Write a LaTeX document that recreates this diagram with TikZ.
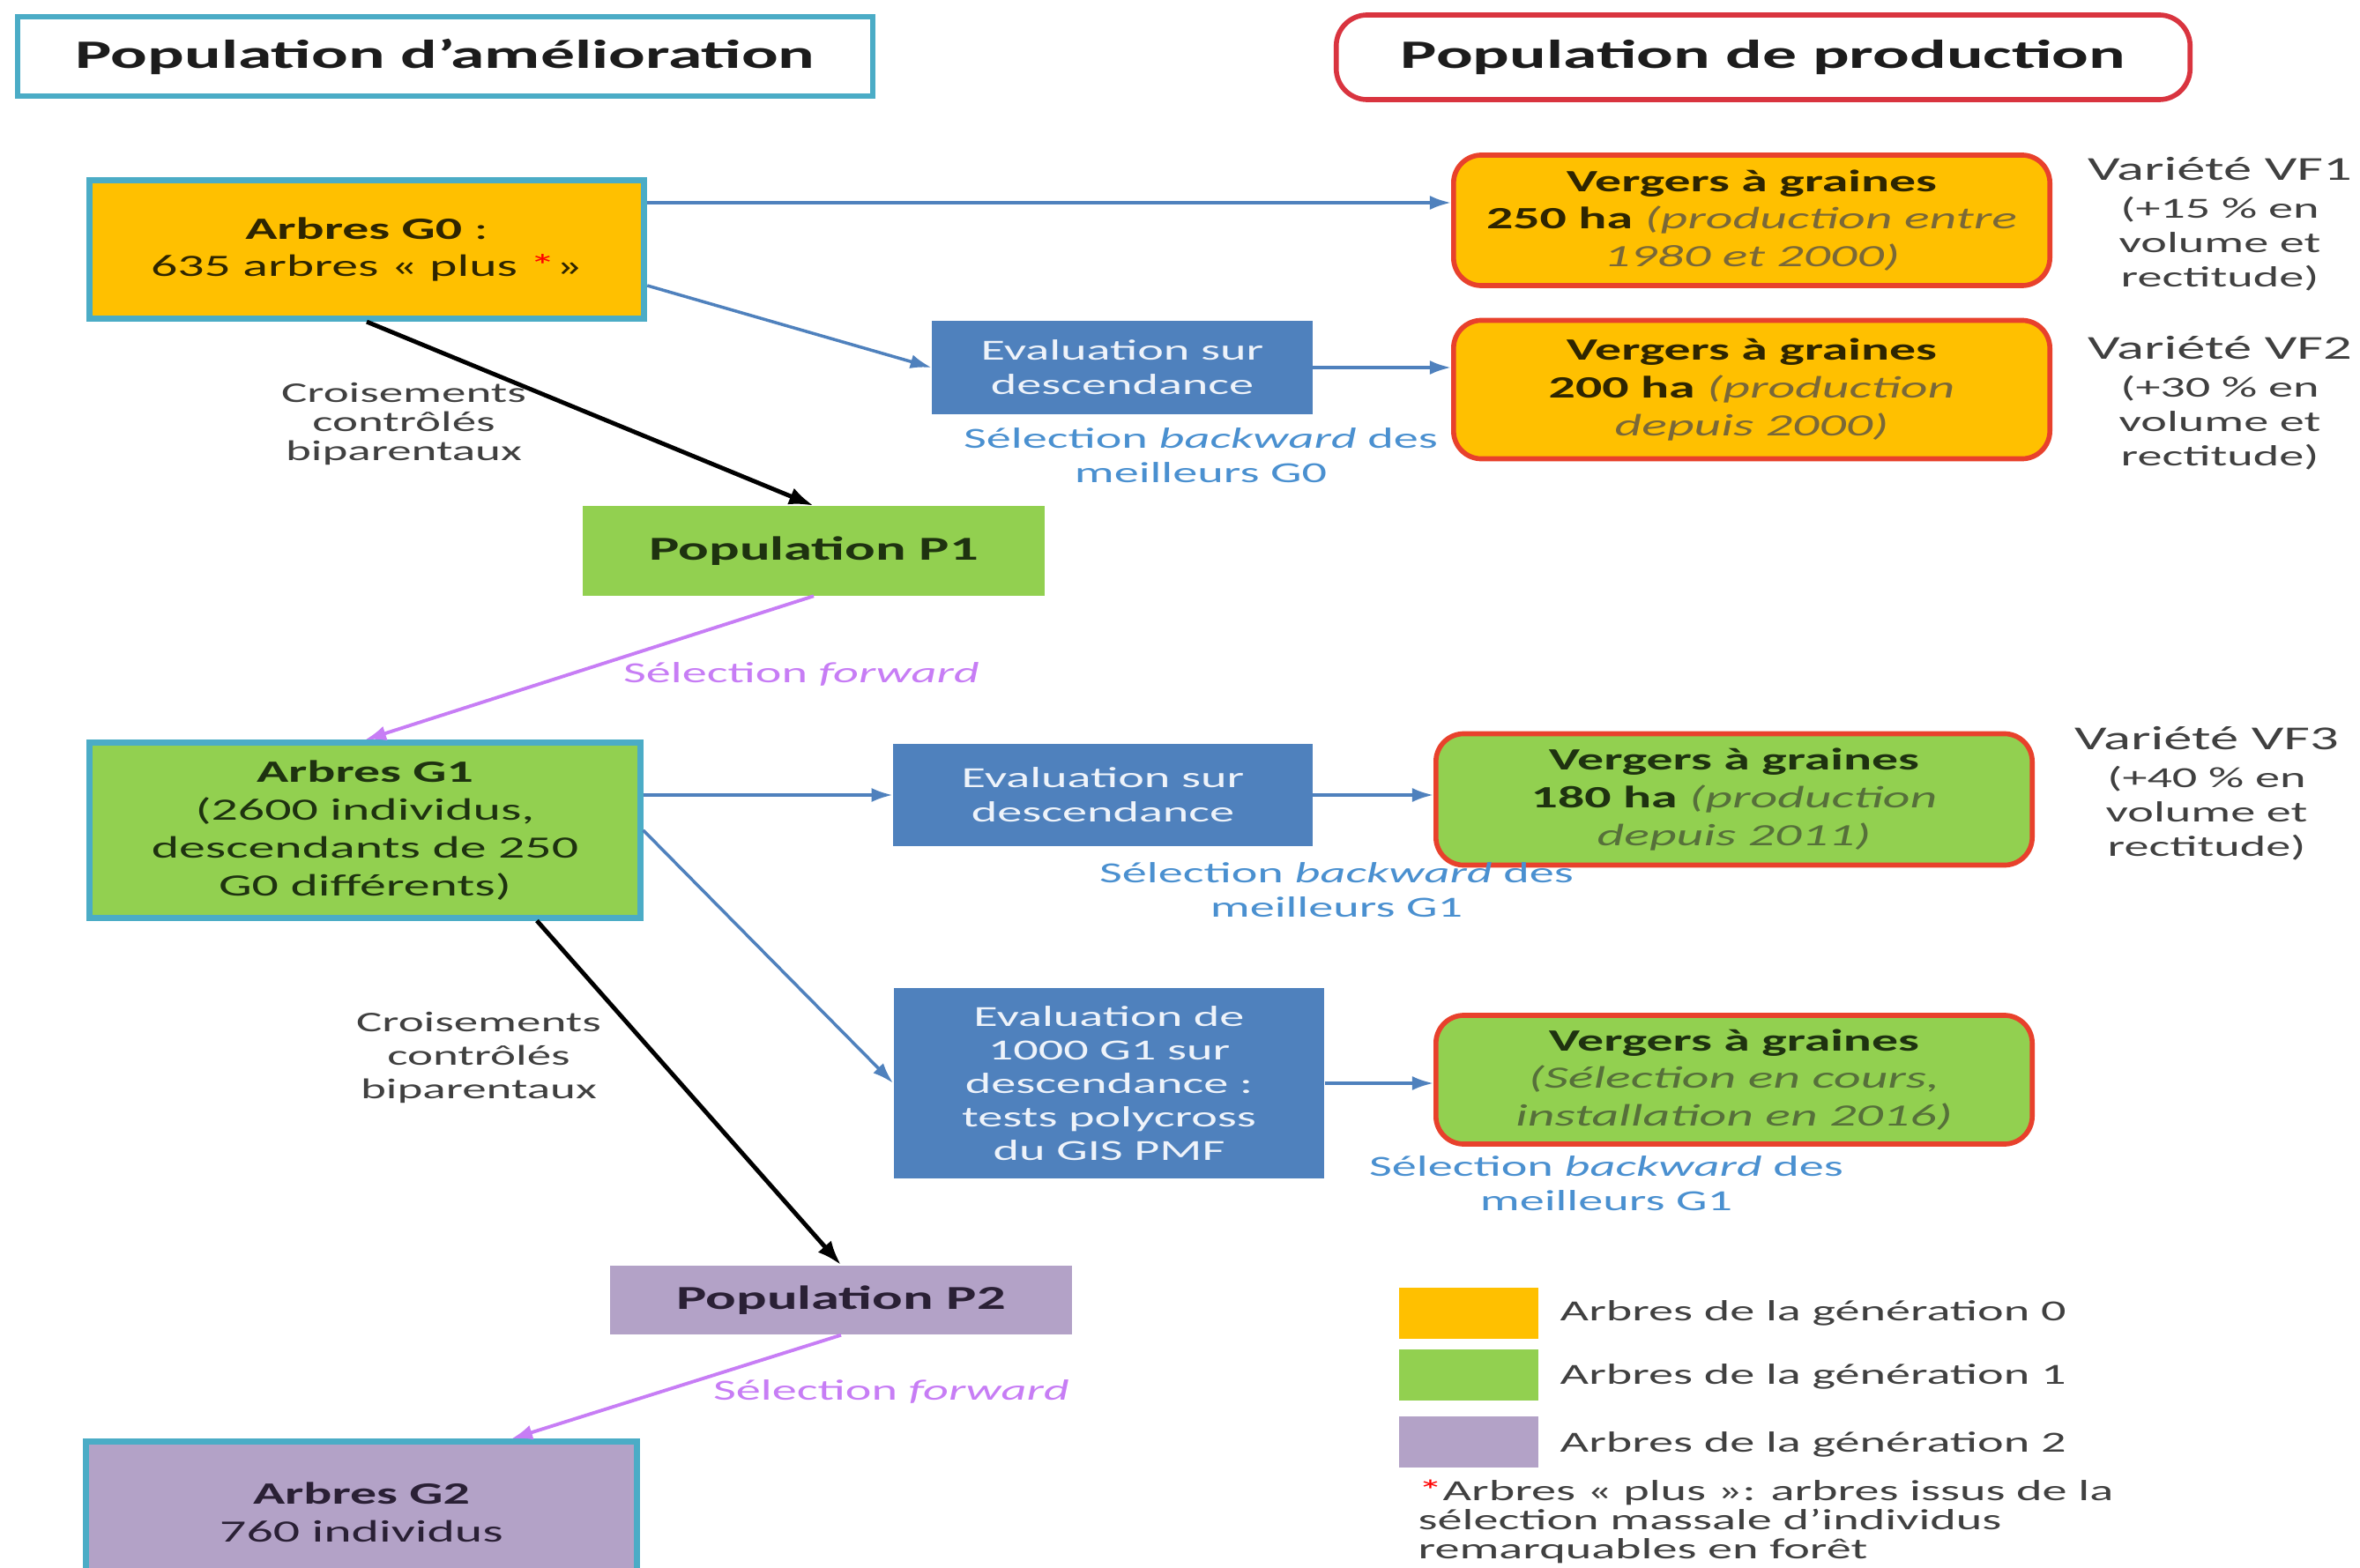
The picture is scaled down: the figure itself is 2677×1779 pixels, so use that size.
\documentclass[tikz,border=0pt]{standalone}
\usepackage{fontspec}
\setmainfont{Carlito}[FakeStretch=1.7]
\usetikzlibrary{arrows.meta,calc}

\definecolor{cOrange}{HTML}{FFC000}
\definecolor{cGreen}{HTML}{92D050}
\definecolor{cPurple}{HTML}{B3A2C7}
\definecolor{cBlue}{HTML}{4F81BD}
\definecolor{cTeal}{HTML}{4BACC6}
\definecolor{cRed}{HTML}{E8412C}
\definecolor{cHRed}{HTML}{D9343F}
\definecolor{cLabel}{HTML}{4A90D0}
\definecolor{cViolet}{HTML}{C77DF5}
\definecolor{cText}{HTML}{404040}
\definecolor{cDark}{HTML}{1C1C1C}
\definecolor{cGtext}{HTML}{1E3210}
\definecolor{cOtext}{HTML}{2E2500}
\definecolor{cPtext}{HTML}{2A2035}
\definecolor{cItalO}{HTML}{7A6838}
\definecolor{cItalG}{HTML}{56703A}
\definecolor{cEtext}{HTML}{EEF3FA}

\newcommand\myfA{\fontsize{10pt}{12.2pt}\selectfont}
\newcommand\myfB{\fontsize{9.4pt}{11.1pt}\selectfont}
\newcommand\myfH{\fontsize{13pt}{15pt}\selectfont}
\newcommand\myfP{\fontsize{10.8pt}{13pt}\selectfont}

\begin{document}
\begin{tikzpicture}[x=0.01cm,y=-0.01cm,
  hdr/.style={line width=1.6pt, minimum height=0.9cm, inner sep=0pt, font=\myfH\bfseries, text=cDark},
  gen/.style={draw=cTeal, line width=2pt, inner sep=0pt, align=center, font=\myfA},
  verg/.style={draw=cRed, line width=1.6pt, rounded corners=9pt, minimum width=6.76cm, inner sep=0pt, align=center, font=\myfA},
  evalb/.style={fill=cBlue, inner sep=0pt, align=center, text=cEtext, font=\myfB},
  popb/.style={inner sep=0pt, align=center, font=\myfP\bfseries},
  barrow/.style={draw=cBlue, line width=1pt, -{Latex[length=0.24cm,width=0.16cm]}},
  karrow/.style={draw=black, line width=1.4pt, -{Latex[length=0.28cm,width=0.2cm]}},
  varrow/.style={draw=cViolet, line width=1.1pt, -{Latex[length=0.24cm,width=0.17cm]}},
  lblb/.style={text=cLabel, align=center, font=\myfB, inner sep=0pt},
  lblv/.style={text=cViolet, align=center, font=\myfB, inner sep=0pt},
  cross/.style={text=cText, align=center, inner sep=0pt},
  vf/.style={text=cText, align=center, inner sep=0pt, font=\myfB},
  lsq/.style={minimum width=1.57cm, minimum height=0.58cm, inner sep=0pt},
  ltext/.style={text=cText, font=\myfB, inner sep=0pt}
]
\useasboundingbox (0,0) rectangle (2677,1779);
\fill[white] (0,0) rectangle (2677,1779);

% headers
\node[hdr, draw=cTeal, minimum width=9.7cm] (h1) at (505,64) {Population d’amélioration};
\node[hdr, draw=cHRed, rounded corners=10pt, minimum width=9.68cm, minimum height=0.96cm] (h2) at (2000,65) {Population de production};

% generation boxes
\node[gen, fill=cOrange, text=cOtext, minimum width=6.29cm, minimum height=1.57cm] (g0) at (416,283)
  {{\bfseries Arbres G0} :\\635 arbres « plus {\color{red}*}»};
\node[gen, fill=cGreen, text=cGtext, minimum width=6.24cm, minimum height=1.98cm] (g1) at (414,942)
  {{\bfseries Arbres G1}\\(2600 individus,\\descendants de 250\\G0 différents)};
\node[gen, fill=cPurple, text=cPtext, minimum width=6.25cm, minimum height=1.6cm] (g2) at (410,1716)
  {{\bfseries Arbres G2}\\760 individus};

% populations
\node[popb, fill=cGreen, text=cGtext, minimum width=5.23cm, minimum height=1.01cm] (p1) at (923,625) {Population P1};
\node[popb, fill=cPurple, text=cPtext, minimum width=5.23cm, minimum height=0.78cm] (p2) at (954,1475) {Population P2};

% evaluation boxes
\node[evalb, minimum width=4.31cm, minimum height=1.06cm] (e1) at (1273,417) {Evaluation sur\\descendance};
\node[evalb, minimum width=4.75cm, minimum height=1.15cm] (e2) at (1251,902) {Evaluation sur\\descendance};
\node[evalb, minimum width=4.88cm, minimum height=2.15cm, font=\fontsize{9.4pt}{10.8pt}\selectfont] (e3) at (1258,1229)
  {Evaluation de\\1000 G1 sur\\descendance :\\tests polycross\\du GIS PMF};

% seed orchards
\node[verg, fill=cOrange, text=cOtext, minimum height=1.48cm] (v1) at (1987,250)
  {{\bfseries Vergers à graines}\\{\bfseries 250 ha} {\itshape\color{cItalO}(production entre}\\{\itshape\color{cItalO}1980 et 2000)}};
\node[verg, fill=cOrange, text=cOtext, minimum height=1.57cm] (v2) at (1987,442)
  {{\bfseries Vergers à graines}\\{\bfseries 200 ha} {\itshape\color{cItalO}(production}\\{\itshape\color{cItalO}depuis 2000)}};
\node[verg, fill=cGreen, text=cGtext, minimum height=1.49cm] (v3) at (1967,907)
  {{\bfseries Vergers à graines}\\{\bfseries 180 ha} {\itshape\color{cItalG}(production}\\{\itshape\color{cItalG}depuis 2011)}};
\node[verg, fill=cGreen, text=cGtext, minimum height=1.46cm] (v4) at (1967,1225)
  {{\bfseries Vergers à graines}\\{\itshape\color{cItalG}(Sélection en cours,}\\{\itshape\color{cItalG}installation en 2016)}};

% varieties
\node[vf] (vf1) at (2518,254) {{\myfP Variété VF1}\\[1.2pt](+15 \% en\\volume et\\rectitude)};
\node[vf] (vf2) at (2518,457) {{\myfP Variété VF2}\\[1.2pt](+30 \% en\\volume et\\rectitude)};
\node[vf] (vf3) at (2503,900) {{\myfP Variété VF3}\\[1.2pt](+40 \% en\\volume et\\rectitude)};

% labels
\node[lblb] (lb1) at (1362,517) {Sélection \textit{backward} des\\meilleurs G0};
\node[lblb] (lb2) at (1516,1010) {Sélection \textit{backward} des\\meilleurs G1};
\node[lblb] (lb3) at (1822,1343) {Sélection \textit{backward} des\\meilleurs G1};
\node[lblv] (lf1) at (909,765) {Sélection \textit{forward}};
\node[lblv] (lf2) at (1011,1579) {Sélection \textit{forward}};
\node[cross, font=\fontsize{9.2pt}{9.4pt}\selectfont] (c1) at (458,481) {Croisements\\contrôlés\\biparentaux};
\node[cross, font=\fontsize{9.2pt}{10.8pt}\selectfont] (c2) at (543,1200) {Croisements\\contrôlés\\biparentaux};

% connectors
\coordinate (ya) at (0,230);
\coordinate (yb) at (0,324);
\draw[barrow] (g0.east |- ya) -- (v1.west |- ya);
\draw[barrow] (g0.east |- yb) -- (e1.west);
\draw[barrow] (e1.east) -- (v2.west |- e1.east);
\draw[karrow] (g0.south) -- (p1.north);
\draw[varrow] (p1.south) -- (g1.north);
\draw[barrow] (g1.east |- e2.west) -- (e2.west);
\draw[barrow] (e2.east) -- (v3.west |- e2.east);
\draw[barrow] (g1.east) -- (e3.west);
\draw[barrow] (e3.east) -- (v4.west |- e3.east);
\draw[karrow] ($(g1.south)+(195,0)$) -- (p2.north);
\draw[varrow] (p2.south) -- ($(g2.north)+(170,0)$);

% legend
\node[lsq, fill=cOrange] (lg0) at (1666,1490) {};
\node[lsq, fill=cGreen] (lg1) at (1666,1560) {};
\node[lsq, fill=cPurple] (lg2) at (1666,1636) {};
\node[ltext, anchor=west] (lt0) at (1769,1490) {Arbres de la génération 0};
\node[ltext, anchor=west] (lt1) at (1769,1562) {Arbres de la génération 1};
\node[ltext, anchor=west] (lt2) at (1769,1639) {Arbres de la génération 2};
\node[ltext, anchor=north west, align=left, font=\fontsize{9.4pt}{9.5pt}\selectfont] (fn) at (1608,1678)
  {{\color{red}*}Arbres « plus »: arbres issus de la\\sélection massale d’individus\\remarquables en forêt};
\end{tikzpicture}
\end{document}
